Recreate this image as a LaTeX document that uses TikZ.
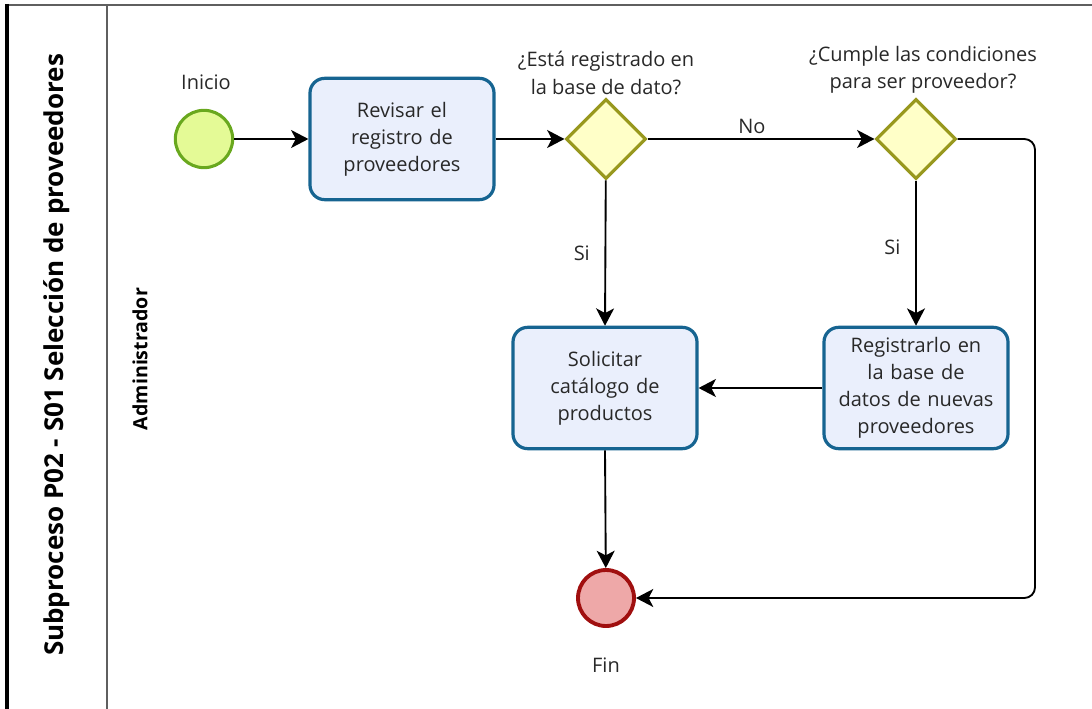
\documentclass[tikz,border=0pt]{standalone}
\usepackage{fontspec}
\setmainfont{Open Sans}
\usetikzlibrary{shapes.geometric,arrows.meta}
\definecolor{taskfill}{RGB}{234,239,252}
\definecolor{taskdraw}{RGB}{22,100,145}
\definecolor{startfill}{RGB}{228,250,150}
\definecolor{startdraw}{RGB}{105,168,30}
\definecolor{endfill}{RGB}{238,168,168}
\definecolor{enddraw}{RGB}{160,15,15}
\definecolor{gwfill}{RGB}{255,255,200}
\definecolor{gwdraw}{RGB}{152,152,30}
\definecolor{txt}{RGB}{40,40,40}
\definecolor{poolgray}{RGB}{95,95,95}
\tikzset{
  taskbox/.style={draw=taskdraw, fill=taskfill, line width=2.4pt, rounded corners=11pt,
    minimum width=138pt, minimum height=91pt, align=center, text width=128pt,
    font=\fontsize{15}{20.3}\selectfont, text=txt, inner sep=0pt},
  startev/.style={circle, draw=startdraw, fill=startfill, line width=2.3pt, minimum size=43pt, inner sep=0pt},
  endev/.style={circle, draw=enddraw, fill=endfill, line width=2.9pt, minimum size=42pt, inner sep=0pt},
  gateway/.style={diamond, draw=gwdraw, fill=gwfill, line width=2.3pt, minimum width=60pt, minimum height=60pt, inner sep=0pt},
  flow/.style={-{Stealth[length=13pt,width=13.5pt,inset=3.5pt]}, line width=1.4pt, black},
  lbl/.style={font=\fontsize{15}{20.3}\selectfont, text=txt, align=center, inner sep=1pt},
}
\begin{document}
\begin{tikzpicture}[x=0.75pt,y=-0.75pt]
\useasboundingbox (0,0) rectangle (1092,709);
% pool
\draw[poolgray, line width=2.2pt] (7,5) -- (1092,5);
\draw[poolgray, line width=1.6pt] (107,5) -- (107,709);
\draw[black, line width=2.4pt] (7,4) -- (7,709);
\node[rotate=90, font=\bfseries\fontsize{19.5}{24}\selectfont, text=black] (pooltitle) at (57,355) {Subproceso P02 - S01 Selección de proveedores};
\node[rotate=90, font=\bfseries\fontsize{14.7}{18}\selectfont, text=black] (lanetitle) at (140,359) {Administrador};

% nodes
\node[startev] (start) at (204,139) {};
\node[lbl] (startlbl) at (206,82) {Inicio};
\node[taskbox] (t1) at (402,139) {Revisar el\\registro de\\proveedores};
\node[gateway] (g1) at (606,139) {};
\node[lbl] (g1lbl) at (606,73) {¿Está registrado en\\la base de dato?};
\node[gateway] (g2) at (916,139) {};
\node[lbl] (g2lbl) at (923,70) {¿Cumple las condiciones\\para ser proveedor?};
\node[taskbox] (t2) at (605,388) {Solicitar\\catálogo de\\productos};
\node[taskbox] (t3) at (916,388) {Registrarlo en\\la base de\\datos de nuevas\\proveedores};
\node[endev] (end) at (606,598) {};
\node[lbl] (endlbl) at (606,665) {Fin};
\coordinate (c1) at (1035,139);
\coordinate (c2) at (1035,598);

% flows
\draw[flow] (start) -- (t1);
\draw[flow] (t1) -- (g1);
\draw[flow] (g1) -- node[lbl, above=2pt, pos=0.46] (nolbl) {No} (g2);
\draw[flow] (g1) -- node[lbl, left=10pt, pos=0.5] (si1) {Si} (t2.north);
\draw[flow] (g2) -- node[lbl, left=10pt, pos=0.46] (si2) {Si} (t3.north);
\draw[flow] (t3) -- (t2);
\draw[flow] (t2.south) -- (end);
\draw[flow, rounded corners=8pt] (g2.east) -- (c1) -- (c2) -- (end.east);
\end{tikzpicture}
\end{document}
